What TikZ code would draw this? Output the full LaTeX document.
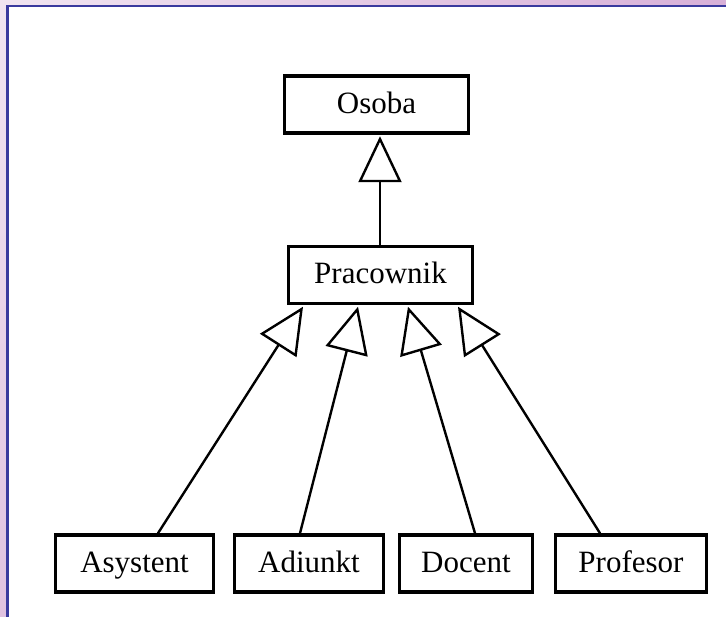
\documentclass[tikz,border=0pt]{standalone}
\usepackage{fontspec}
\setmainfont{Liberation Serif}
\usetikzlibrary{arrows.meta, shadings}

\definecolor{bgLight}{HTML}{F1E5F1}
\definecolor{bgMid}{HTML}{E0C2E0}
\definecolor{bgDark}{HTML}{D8B0D8}
\definecolor{frameBlue}{HTML}{3A3A9E}

\tikzset{
  classbox/.style={draw=black, line width=3.5pt, fill=white, inner sep=0pt,
    minimum height=57pt, text height=23pt, text depth=5pt,
    font=\fontsize{31}{36}\selectfont},
  inherits/.style={draw=black, line width=2.4pt,
    -{Triangle[open, length=46pt, width=43pt, line width=2.4pt]}},
}

\begin{document}
\begin{tikzpicture}[x=1pt, y=-1pt]
  \useasboundingbox (0,0) rectangle (726,617);

  % page background and white panel with its blue edge
  \shade[upper left=bgLight, upper right=bgDark, lower left=bgMid, lower right=bgDark]
    (0,0) rectangle (726,617);
  \fill[white] (7,6) rectangle (728,619);
  \draw[frameBlue, line width=2.2pt] (7.5,619) -- (7.5,6) -- (728,6);

  % classes
  \node[classbox, minimum width=184pt] (Osoba) at (376.5,104.5) {Osoba};
  \node[classbox, minimum width=184pt] (Pracownik) at (380.5,275) {Pracownik};

  \node[classbox, minimum width=158pt] (Asystent) at (134.5,563.5) {Asystent};
  \node[classbox, minimum width=149pt] (Adiunkt)  at (309,563.5)   {Adiunkt};
  \node[classbox, minimum width=133pt] (Docent)   at (466,563.5)   {Docent};
  \node[classbox, minimum width=151pt] (Profesor) at (631,563.5)   {Profesor};

  % generalisation arrows
  \draw[inherits] (Pracownik.north -| 380,0) -- ([yshift=-1.5pt]Osoba.south -| 380,0);

  \draw[inherits] ([xshift=23.5pt]Asystent.north) -- ([xshift=-77.5pt, yshift=-1.5pt]Pracownik.south);
  \draw[inherits] ([xshift=-9pt]Adiunkt.north)    -- ([xshift=-22.5pt, yshift=-1.5pt]Pracownik.south);
  \draw[inherits] ([xshift=9pt]Docent.north)      -- ([xshift=27.5pt, yshift=-1.5pt]Pracownik.south);
  \draw[inherits] ([xshift=-31pt]Profesor.north)  -- ([xshift=77.5pt, yshift=-1.5pt]Pracownik.south);
\end{tikzpicture}
\end{document}
